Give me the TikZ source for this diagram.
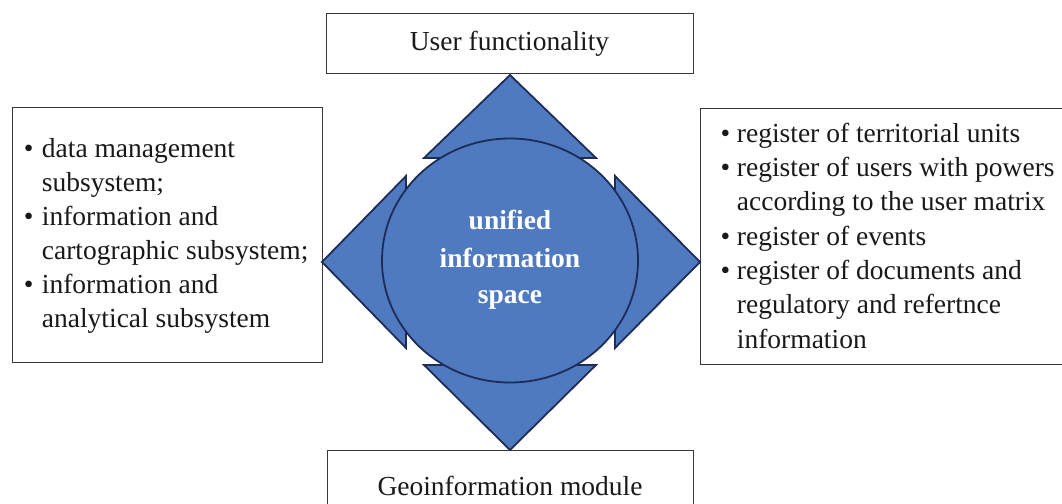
\documentclass[tikz,border=0pt]{standalone}
\usepackage{fontspec}
\setmainfont{Liberation Serif}
\definecolor{blueF}{RGB}{79,122,192}
\definecolor{navy}{RGB}{30,44,88}
\definecolor{boxline}{RGB}{55,55,55}
\begin{document}
\begin{tikzpicture}[x=1pt,y=-1pt,
  box/.style={draw=boxline, line width=1.4pt, inner sep=0pt, anchor=north west},
  tri/.style={fill=blueF, draw=navy, line width=1.8pt, line join=miter},
  txt/.style={font=\fontsize{27.5}{34}\selectfont, inner sep=0pt, anchor=base west, text=black!90},
  bul/.style={txt, anchor=base},
  ctr/.style={font=\fontsize{27.5}{34}\selectfont\bfseries, inner sep=0pt, anchor=base, text=white}]
\useasboundingbox (0,0) rectangle (1062,503);
% boxes
\node[box, minimum width=367pt, minimum height=60pt] (top) at (326,13) {};
\node[box, minimum width=366pt, minimum height=70pt] (bot) at (327,450) {};
\node[box, minimum width=310.5pt, minimum height=255pt] (left) at (11.5,107) {};
\node[box, minimum width=380pt, minimum height=256pt] (right) at (700,107.5) {};
% diamond pieces
\draw[tri] (510,75) -- (596,158) -- (424,158) -- cycle;
\draw[tri] (510,450) -- (596,365) -- (424,365) -- cycle;
\draw[tri] (322,262) -- (406,176) -- (406,348) -- cycle;
\draw[tri] (700,262) -- (615,176) -- (615,348) -- cycle;
\draw[tri] (510,260.5) ellipse [x radius=128, y radius=122];
% centre text
\node[ctr] (c1) at (510,229) {unified};
\node[ctr] (c2) at (510,267) {information};
\node[ctr] (c3) at (510,303) {space};
% top / bottom text
\node[txt, anchor=base] (topt) at (509.5,51) {User functionality};
\node[txt, anchor=base] (bott) at (510,495) {Geoinformation module};
% left text
\node[bul] (lb1) at (28.8,157) {\textbullet};
\node[txt] (l1) at (41.7,157) {data management};
\node[txt] (l2) at (41.7,191) {subsystem;};
\node[bul] (lb2) at (28.8,225) {\textbullet};
\node[txt] (l3) at (41.7,225) {information and};
\node[txt] (l4) at (41.7,259) {cartographic subsystem;};
\node[bul] (lb3) at (28.8,293) {\textbullet};
\node[txt] (l5) at (41.7,293) {information and};
\node[txt] (l6) at (41.7,327) {analytical subsystem};
% right text
\node[bul] (rb1) at (725.5,142) {\textbullet};
\node[txt] (r1) at (736.7,142) {register of territorial units};
\node[bul] (rb2) at (725.5,176) {\textbullet};
\node[txt] (r2) at (736.7,176) {register of users with powers};
\node[txt] (r3) at (736.7,210.5) {according to the user matrix};
\node[bul] (rb3) at (725.5,245) {\textbullet};
\node[txt] (r4) at (736.7,245) {register of events};
\node[bul] (rb4) at (725.5,279) {\textbullet};
\node[txt] (r5) at (736.7,279) {register of documents and};
\node[txt] (r6) at (736.7,313.5) {regulatory and refertnce};
\node[txt] (r7) at (736.7,348) {information};
\end{tikzpicture}
\end{document}
